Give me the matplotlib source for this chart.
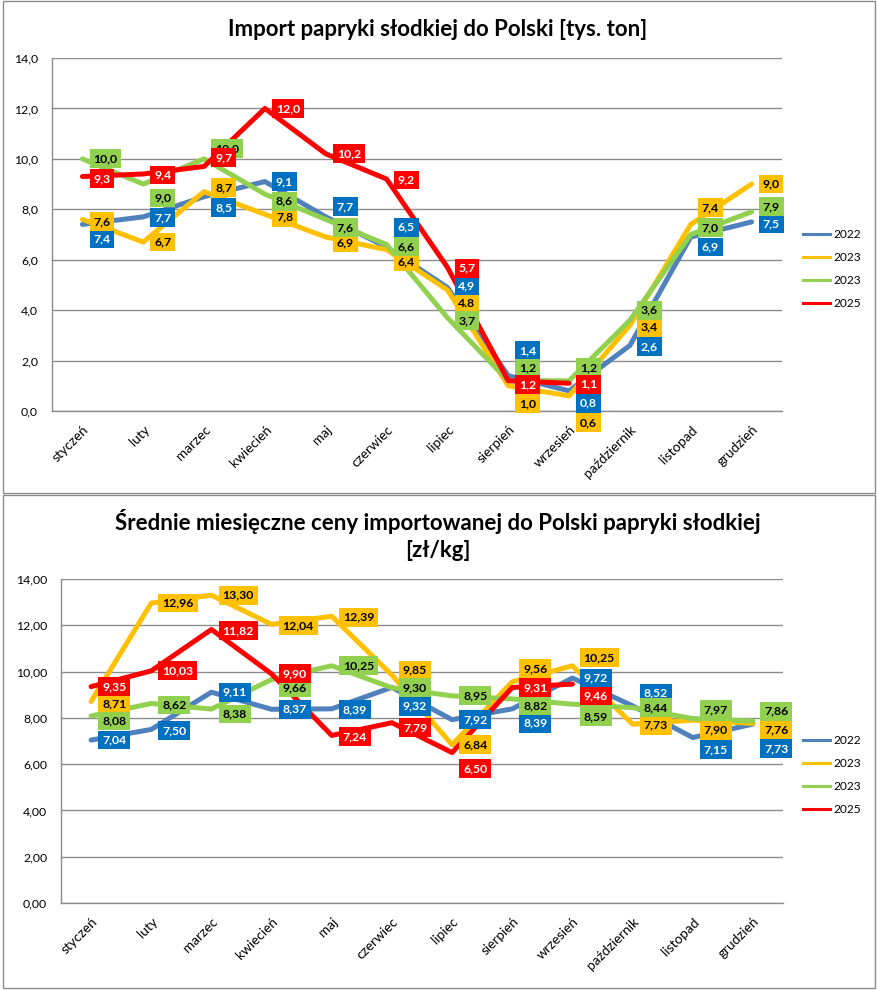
import matplotlib
matplotlib.use('Agg')
import matplotlib.pyplot as plt
from matplotlib.patches import Rectangle
from matplotlib.ticker import FuncFormatter, MultipleLocator
from matplotlib.lines import Line2D

# ---------------- data ----------------
months = ['styczeń', 'luty', 'marzec', 'kwiecień', 'maj', 'czerwiec', 'lipiec',
          'sierpień', 'wrzesień', 'październik', 'listopad', 'grudzień']
series_names = ['2022', '2023', '2023', '2025']

import_2022 = [7.4, 7.7, 8.5, 9.1, 7.7, 6.5, 4.9, 1.4, 0.8, 2.6, 6.9, 7.5]
import_2023 = [7.6, 6.7, 8.7, 7.8, 6.9, 6.4, 4.8, 1.0, 0.6, 3.4, 7.4, 9.0]
import_2023b = [10.0, 9.0, 10.0, 8.6, 7.6, 6.6, 3.7, 1.2, 1.2, 3.6, 7.0, 7.9]
import_2025 = [9.3, 9.4, 9.7, 12.0, 10.2, 9.2, 5.7, 1.2, 1.1]

price_2022 = [7.04, 7.50, 9.11, 8.37, 8.39, 9.32, 7.92, 8.39, 9.72, 8.52, 7.15, 7.73]
price_2023 = [8.71, 12.96, 13.30, 12.04, 12.39, 9.85, 6.84, 9.56, 10.25, 7.73, 7.90, 7.76]
price_2023b = [8.08, 8.62, 8.38, 9.66, 10.25, 9.30, 8.95, 8.82, 8.59, 8.44, 7.97, 7.86]
price_2025 = [9.35, 10.03, 11.82, 9.90, 7.24, 7.79, 6.50, 9.31, 9.46]

title_import = 'Import papryki słodkiej do Polski [tys. ton]'
title_price = 'Średnie miesięczne ceny importowanej do Polski papryki słodkiej\n[zł/kg]'

# ---------------- styles / layout ----------------
line_colors = ['#4F81BD', '#FFC000', '#92D050', '#FF0000']
box_colors = ['#0070C0', '#FFC000', '#92D050', '#FF0000']
text_colors = ['white', 'black', 'black', 'white']

# manual label vertical shifts (pixels, + = up), as arranged in the original
import_dy = [
    [-14.5, -1, -11, 0, 10, 20, 1.5, 25, -12.5, -1, -10, -2],
    [-2, 0, 4, -3, -5.5, -12, -14, -18, -27, -2, 17, 0],
    [0, -14, 10, -7, -8, -2, -3, 12.5, 13, 10, 7, 5],
    [-2, -1, 9, 0, 0, -1, -1, -4, -1],
]
price_dy = [
    [0, -1, 0, 0, -1, -19, 0, -14.5, 0, 12.5, -12, -24.5],
    [-2, 0, 0, -1.5, -1, 5, 0, 13, 8, -1, -10, -6.5],
    [-5, -1.5, -5, -8, 0, 0, 0, -7, -12.5, 0, 9, 10],
    [0, 0, -1, 0, -1, -5, -16, 0, -12],
]

FONT = 'Lato'
plt.rcParams['font.family'] = [FONT, 'DejaVu Sans']

W, H = 878, 990
fig = plt.figure(figsize=(W / 100, H / 100), dpi=100)
fig.patch.set_facecolor('white')

# panel borders
for (x0, y0, x1, y1) in [(3, 1, 875, 493), (3, 495, 875, 988)]:
    fig.add_artist(Rectangle((x0 / W, 1 - y1 / H), (x1 - x0) / W, (y1 - y0) / H,
                             transform=fig.transFigure, fill=False,
                             edgecolor='#8C8C8C', linewidth=1.0))


def make_panel(rect_px, series, dys, decimals, title, title_y, legend_y, special=None):
    x0, y0, x1, y1 = rect_px
    ax = fig.add_axes([x0 / W, 1 - y1 / H, (x1 - x0) / W, (y1 - y0) / H])
    ax.set_xlim(-0.5, 11.5)
    ax.set_ylim(0, 14)
    ax.yaxis.set_major_locator(MultipleLocator(2))
    ax.yaxis.set_major_formatter(FuncFormatter(
        lambda v, p: f'{v:.{decimals}f}'.replace('.', ',')))
    ax.grid(axis='y', color='#8C8C8C', linewidth=1.0)
    ax.set_axisbelow(True)
    for s in ['top', 'right']:
        ax.spines[s].set_visible(False)
    for s in ['left', 'bottom']:
        ax.spines[s].set_color('#8C8C8C')
        ax.spines[s].set_linewidth(1.0)
    ax.set_xticks(range(len(months)))
    ax.set_xticklabels(months, rotation=45, ha='right', va='top',
                       rotation_mode='anchor', fontsize=9.8)
    ax.tick_params(axis='x', length=0, pad=9)
    ax.tick_params(axis='y', length=0, pad=10, labelsize=8.8)

    handles = []
    for i, vals in enumerate(series):
        xs = list(range(len(vals)))
        ax.plot(xs, vals, color=line_colors[i], linewidth=3.6,
                solid_joinstyle='round', solid_capstyle='round', zorder=3 + i)
        handles.append(Line2D([], [], color=line_colors[i], linewidth=2.2))
    for i, vals in enumerate(series):
        for j, v in enumerate(vals):
            txt = f'{v:.{decimals}f}'.replace('.', ',')
            if special and (i, j) in special:
                txt = special[(i, j)]
            ax.annotate(txt, (j, v), xytext=(11, dys[i][j]), textcoords='offset pixels',
                        ha='left', va='center', fontsize=8.8, fontweight='bold',
                        color=text_colors[i], zorder=10 + i,
                        bbox=dict(boxstyle='square,pad=0.32', facecolor=box_colors[i],
                                  edgecolor='none'))
    fig.text(438 / W, 1 - title_y / H, title, ha='center', va='center',
             fontsize=16, fontweight='bold', linespacing=1.3)
    fig.legend(handles, series_names, loc='center left',
               bbox_to_anchor=(803 / W, 1 - legend_y / H), frameon=False,
               fontsize=8.6, handlelength=2.3, handletextpad=0.25,
               labelspacing=1.0, borderpad=0, borderaxespad=0)
    return ax


make_panel((52, 58, 782, 411),
           [import_2022, import_2023, import_2023b, import_2025],
           import_dy, 1, title_import, 30, 269, special={(1, 6): '4.8'})
make_panel((61, 579, 783, 903),
           [price_2022, price_2023, price_2023b, price_2025],
           price_dy, 2, title_price, 535, 775)

fig.savefig('out.png', dpi=100, facecolor='white')
